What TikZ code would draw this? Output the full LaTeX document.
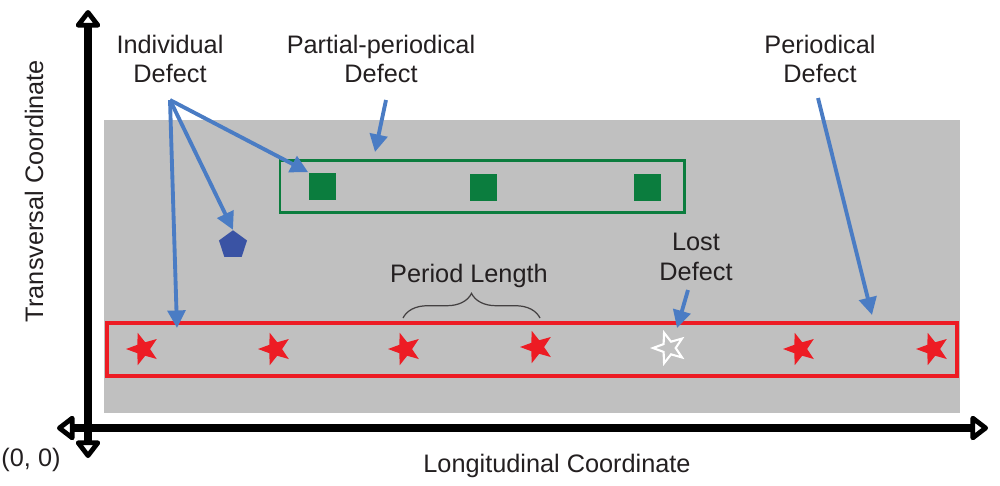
\documentclass[tikz,border=0pt]{standalone}
\usepackage{fontspec}
\setmainfont{Liberation Sans}
\usetikzlibrary{arrows.meta,shapes.geometric,decorations.pathreplacing,positioning}
\definecolor{bggray}{HTML}{C0C0C0}
\definecolor{defgreen}{HTML}{0B7D3E}
\definecolor{defred}{HTML}{ED1C24}
\definecolor{pentblue}{HTML}{3A53A4}
\definecolor{pointblue}{HTML}{4A7CC4}
\definecolor{txt}{HTML}{231F20}

\begin{document}
\begin{tikzpicture}[x=0.02cm,y=-0.02cm,
   lbl/.style={align=center,text=txt,font=\fontsize{14.4}{17}\selectfont,inner sep=0pt},
   pointer/.style={draw=pointblue,line width=2.2pt,-{Triangle[length=10pt,width=10pt]}},
   axis/.style={line width=4.2pt,{Triangle[open,round,length=11pt,width=16pt]}-{Triangle[open,round,length=11pt,width=16pt]}},
   redstar/.style={star,star points=5,star point ratio=2.4,minimum size=0.68cm,inner sep=0pt,rotate=18,fill=defred},
   sqr/.style={rectangle,minimum size=0.54cm,inner sep=0pt,fill=defgreen}]
   \useasboundingbox (0,0) rectangle (1000,485);
   \fill[bggray] (104,120) rectangle (960,413);
   % boxes round the periodic defects
   \draw[defgreen,line width=1.7pt] (280,160) rectangle (684,212);
   \draw[defred,line width=2.3pt] (107,323) rectangle (957,376);
   \node[sqr] (sq1) at (322,186) {};
   \node[sqr] (sq2) at (483,187) {};
   \node[sqr] (sq3) at (647,187) {};
   \node[regular polygon,regular polygon sides=5,minimum size=0.59cm,inner sep=0pt,fill=pentblue] (pent) at (233,245) {};
   \node[redstar] (s1) at (143,349) {};
   \node[redstar] (s2) at (275,349) {};
   \node[redstar] (s3) at (405,349) {};
   \node[redstar] (s4) at (537,347) {};
   \node[redstar,fill=none,draw=white,line width=1.2pt,minimum size=0.64cm] (s5) at (669,348) {};
   \node[redstar] (s6) at (800,349) {};
   \node[redstar] (s7) at (933,349) {};
   % axes
   \draw[axis] (57,428) -- (988,428);
   \draw[axis] (88,10) -- (88,458);
   % labels
   \node[lbl] (indiv) at (170,59) {Individual\\Defect};
   \node[lbl] (partial) at (381,59) {Partial-periodical\\Defect};
   \node[lbl] (periodical) at (820,59) {Periodical\\Defect};
   \node[lbl] (lost) at (696,257) {Lost\\Defect};
   \node[lbl] (period) at (469,276) {Period Length};
   \node[lbl,rotate=90] (ycap) at (34,191) {Transversal Coordinate};
   \node[lbl] (xcap) at (557,466) {Longitudinal Coordinate};
   \node[lbl] (origin) at (31,460) {(0, 0)};
   \draw[txt!85,line width=0.7pt,decorate,decoration={brace,amplitude=14pt}] (403,318) -- (540,318);
   % pointers
   \coordinate (indivfoot) at (170,100);
   \coordinate (indivtip) at (177,328);
   \coordinate (partialfoot) at (386,100);
   \coordinate (partialtip) at (375,152);
   \coordinate (periodfoot) at (818,98);
   \coordinate (periodtip) at (872,315);
   \coordinate (lostfoot) at (688,290);
   \coordinate (losttip) at (677,328);
   \draw[pointer] (indivfoot) -- (sq1.north west);
   \draw[pointer] (indivfoot) -- (pent.north);
   \draw[pointer] (indivfoot) -- (indivtip);
   \draw[pointer] (partialfoot) -- (partialtip);
   \draw[pointer] (periodfoot) -- (periodtip);
   \draw[pointer] (lostfoot) -- (losttip);
\end{tikzpicture}
\end{document}
